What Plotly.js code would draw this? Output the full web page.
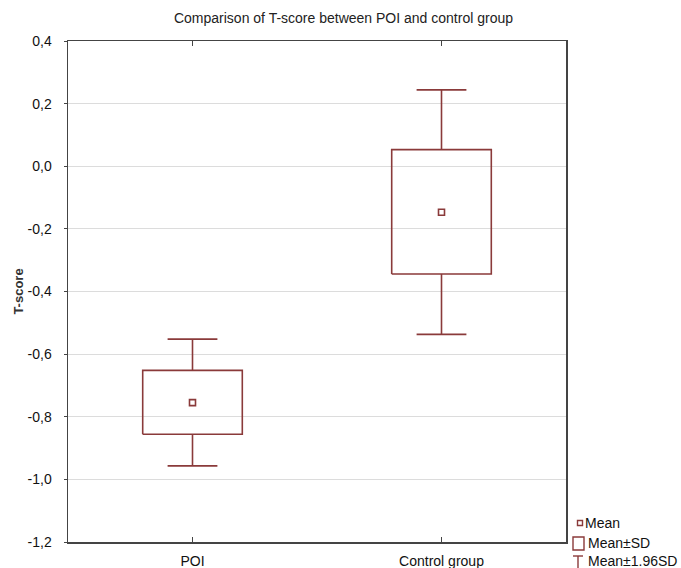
<!DOCTYPE html>
<html>
<head>
<meta charset="utf-8">
<script src="https://cdn.plot.ly/plotly-3.0.1.min.js"></script>
<style>html,body{margin:0;padding:0;background:#fff;}#chart{width:681px;height:568px;}</style>
</head>
<body>
<div id="chart"></div>
<script>
// ---- data ----
const categories = ['POI', 'Control group'];
const means      = [-0.755, -0.147];
const boxHigh    = [-0.652, 0.053];   // Mean + SD
const boxLow     = [-0.856, -0.344];  // Mean - SD
const whiskHigh  = [-0.552, 0.244];   // Mean + 1.96 SD
const whiskLow   = [-0.957, -0.537];  // Mean - 1.96 SD
const yTickVals   = [0.4, 0.2, 0.0, -0.2, -0.4, -0.6, -0.8, -1.0, -1.2];
const yTickLabels = ['0,4', '0,2', '0,0', '-0,2', '-0,4', '-0,6', '-0,8', '-1,0', '-1,2'];
const legendLabels = ['Mean', 'Mean\u00b1SD', 'Mean\u00b11.96SD'];

const col = '#8a3a3a';
const font = 'Liberation Sans, Arial, sans-serif';
const W = 681, H = 568, L = 68, R = 115, T = 41, B = 26;
const pw = W - L - R, ph = H - T - B;
const px = v => (v - L) / pw;
const py = v => (H - B - v) / ph;

const bw = 0.2, cw = 0.1;
const boxX = [], boxY = [], whX = [], whY = [];
categories.forEach((c, i) => {
  boxX.push(i - bw, i + bw, i + bw, i - bw, i - bw, null);
  boxY.push(boxLow[i], boxLow[i], boxHigh[i], boxHigh[i], boxLow[i], null);
  whX.push(i, i, null, i - cw, i + cw, null, i, i, null, i - cw, i + cw, null);
  whY.push(boxHigh[i], whiskHigh[i], null, whiskHigh[i], whiskHigh[i], null,
           boxLow[i], whiskLow[i], null, whiskLow[i], whiskLow[i], null);
});

const traces = [
  {x: whX, y: whY, mode: 'lines', line: {color: col, width: 1.6}, hoverinfo: 'skip', showlegend: false},
  {x: boxX, y: boxY, mode: 'lines', line: {color: col, width: 1.6}, hoverinfo: 'skip', showlegend: false},
  {x: categories.map((c, i) => i), y: means, mode: 'markers',
   marker: {symbol: 'square-open', size: 6, color: col, line: {width: 1.6, color: col}}, showlegend: false}
];

const shapes = [
  // legend symbols
  {type: 'rect', xref: 'paper', yref: 'paper', x0: px(577.5), x1: px(582.5), y0: py(525.5), y1: py(520.5), line: {color: col, width: 1.4}},
  {type: 'rect', xref: 'paper', yref: 'paper', x0: px(573), x1: px(584), y0: py(550), y1: py(537), line: {color: col, width: 1.4}},
  {type: 'line', xref: 'paper', yref: 'paper', x0: px(573), x1: px(583), y0: py(556), y1: py(556), line: {color: col, width: 1.4}},
  {type: 'line', xref: 'paper', yref: 'paper', x0: px(578), x1: px(578), y0: py(556), y1: py(568), line: {color: col, width: 1.4}}
];
const legY = [523, 543, 561];
const annotations = legendLabels.map((t, i) => ({
  text: t, xref: 'paper', yref: 'paper', x: px(i === 0 ? 583 : 586), y: py(legY[i]),
  xanchor: 'left', yanchor: 'middle', showarrow: false,
  font: {family: font, size: 14, color: '#111'}
}));

const layout = {
  width: W, height: H,
  margin: {l: L, r: R, t: T, b: B, pad: 0},
  paper_bgcolor: '#fff', plot_bgcolor: '#fff',
  showlegend: false,
  title: {text: 'Comparison of T-score between POI and control group',
          font: {family: font, size: 14, color: '#222'},
          x: (175 + 512) / 2 / W, xanchor: 'center', y: 1 - 18 / H, yanchor: 'middle'},
  xaxis: {range: [-0.5, 1.5], tickvals: categories.map((c, i) => i), ticktext: categories,
          showgrid: false, zeroline: false, showline: true, mirror: 'ticks',
          linecolor: '#444', linewidth: 1.5, ticks: 'inside', ticklen: 5, tickcolor: '#444',
          ticklabelstandoff: 6,
          tickfont: {family: font, size: 14, color: '#111'}, fixedrange: true},
  yaxis: {range: [-1.2, 0.4], tickvals: yTickVals, ticktext: yTickLabels,
          showgrid: true, gridcolor: '#dcdcdc', gridwidth: 1, zeroline: false,
          showline: true, mirror: true, linecolor: '#444', linewidth: 1.5,
          ticks: 'outside', ticklen: 3, tickcolor: '#444', ticklabelstandoff: 9,
          tickfont: {family: font, size: 14, color: '#111'},
          title: {text: '<b>T-score</b>', font: {family: font, size: 13, color: '#333'}, standoff: 1},
          fixedrange: true},
  shapes: shapes,
  annotations: annotations
};

Plotly.newPlot('chart', traces, layout, {staticPlot: true, displayModeBar: false});
</script>
</body>
</html>
